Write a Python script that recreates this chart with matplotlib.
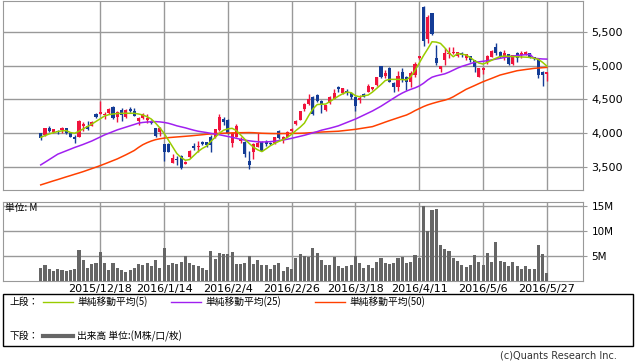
import matplotlib.pyplot as plt
from matplotlib.lines import Line2D
from matplotlib.patches import Rectangle
import numpy as np

plt.rcParams['font.family'] = ['DejaVu Sans', 'Noto Sans CJK JP']
JP = ['Noto Sans CJK JP', 'DejaVu Sans']

# daily candles, oldest first
opens = [4000, 3975, 4075, 4020, 4030, 4050, 4075, 4000, 3940, 3950,
         4100, 4110, 4110, 4280, 4285, 4270, 4295, 4390, 4240, 4345,
         4236, 4364, 4330, 4187, 4221, 4196, 4187, 4073, 4024, 3840,
         3840, 3565, 3620, 3665, 3545, 3645, 3817, 3790, 3876, 3866,
         3950, 3940, 4049, 4216, 4196, 3860, 3950, 3890, 3876, 3590,
         3723, 3802, 3876, 3876, 3860, 3851, 4034, 3901, 3950, 4039,
         4132, 4196, 4364, 4433, 4532, 4561, 4483, 4344, 4443, 4507,
         4680, 4591, 4630, 4591, 4532, 4492, 4581, 4615, 4650, 4714,
         4995, 4847, 4961, 4749, 4680, 4911, 4827, 4763, 4862, 5108,
         5873, 5390, 5774, 5108, 4946, 5084, 5172, 5182, 5143, 5192,
         5108, 5143, 5084, 4837, 4935, 5059, 5133, 5281, 5207, 5123,
         5172, 5025, 5192, 5158, 5172, 5182, 5123, 5108, 4911, 4877]
highs = [4010, 4080, 4105, 4070, 4050, 4095, 4085, 4010, 3975, 4200,
         4160, 4180, 4175, 4300, 4480, 4315, 4380, 4400, 4330, 4370,
         4355, 4384, 4380, 4246, 4300, 4280, 4200, 4085, 4098, 3845,
         3850, 3695, 3665, 3680, 3590, 3755, 3860, 3880, 3890, 3876,
         3975, 4070, 4285, 4236, 4210, 4020, 4137, 3950, 3885, 3743,
         3850, 3999, 3890, 3901, 3875, 3950, 4045, 3960, 4030, 4073,
         4200, 4335, 4453, 4581, 4545, 4575, 4495, 4425, 4545, 4650,
         4700, 4675, 4650, 4615, 4540, 4566, 4595, 4729, 4690, 4840,
         5000, 4936, 4975, 4755, 4926, 4961, 4847, 4921, 5059, 5150,
         5880, 5750, 5780, 5306, 5000, 5256, 5271, 5271, 5210, 5207,
         5180, 5150, 5090, 4970, 4980, 5160, 5230, 5340, 5215, 5232,
         5180, 5165, 5200, 5222, 5225, 5190, 5135, 5115, 4920, 4905]
lows = [3895, 3965, 4025, 4005, 3990, 4000, 3990, 3940, 3850, 3940,
        4040, 4050, 4100, 4220, 4280, 4215, 4285, 4210, 4160, 4175,
        4230, 4315, 4255, 4122, 4210, 4157, 4135, 3950, 3960, 3595,
        3720, 3555, 3535, 3470, 3540, 3640, 3753, 3715, 3830, 3802,
        3715, 3935, 4040, 4117, 3990, 3790, 3940, 3851, 3654, 3467,
        3625, 3795, 3735, 3810, 3830, 3845, 3910, 3851, 3945, 4005,
        4120, 4190, 4334, 4425, 4265, 4470, 4305, 4335, 4430, 4500,
        4615, 4585, 4566, 4500, 4334, 4443, 4530, 4605, 4640, 4705,
        4815, 4813, 4755, 4615, 4630, 4763, 4640, 4680, 4827, 5100,
        5290, 5340, 5460, 5010, 4911, 5010, 5108, 5172, 5135, 5133,
        5084, 5059, 4911, 4827, 4875, 5030, 5125, 5158, 5115, 5084,
        5015, 5015, 5059, 5108, 5165, 5108, 5080, 4813, 4700, 4778]
closes = [3930, 4075, 4040, 4060, 4020, 4085, 4000, 3950, 3910, 4180,
          4140, 4070, 4165, 4245, 4315, 4285, 4360, 4220, 4320, 4270,
          4344, 4334, 4260, 4221, 4280, 4221, 4147, 3960, 4073, 3728,
          3728, 3635, 3605, 3482, 3580, 3742, 3782, 3805, 3840, 3827,
          3827, 4058, 4236, 4167, 4000, 4009, 4108, 3910, 3694, 3536,
          3840, 3851, 3743, 3840, 3840, 3940, 3935, 3950, 4014, 4058,
          4187, 4324, 4433, 4512, 4285, 4482, 4418, 4418, 4532, 4591,
          4650, 4665, 4605, 4542, 4403, 4517, 4542, 4699, 4680, 4827,
          4827, 4896, 4763, 4680, 4847, 4788, 4763, 4896, 5025, 5143,
          5370, 5725, 5468, 5045, 4995, 5192, 5192, 5207, 5197, 5158,
          5172, 5084, 4975, 4961, 4970, 5143, 5222, 5192, 5123, 5182,
          5025, 5158, 5108, 5182, 5207, 5133, 5094, 4862, 4862, 4901]

# moving averages as drawn
ma5 = [3940, 3965, 3990, 4009, 4025, 4035, 4039, 4010, 4000, 4030,
       4065, 4100, 4135, 4175, 4215, 4255, 4275, 4285, 4292, 4295,
       4296, 4296, 4295, 4285, 4270, 4245, 4210, 4150, 4080, 3999,
       3900, 3800, 3700, 3640, 3600, 3610, 3670, 3730, 3775, 3810,
       3880, 3940, 4000, 4045, 4065, 4073, 4040, 3975, 3910, 3850,
       3795, 3755, 3728, 3770, 3815, 3850, 3880, 3905, 3940, 3985,
       4040, 4090, 4150, 4260, 4360, 4425, 4430, 4432, 4470, 4510,
       4550, 4585, 4610, 4600, 4555, 4540, 4555, 4566, 4610, 4665,
       4720, 4780, 4798, 4798, 4798, 4795, 4790, 4840, 4930, 5040,
       5150, 5250, 5355, 5350, 5330, 5265, 5190, 5133, 5180, 5170,
       5160, 5120, 5075, 5040, 5025, 5050, 5080, 5110, 5135, 5143,
       5140, 5136, 5133, 5130, 5127, 5123, 5110, 5094, 5050, 4995]
ma25 = [3531, 3570, 3610, 3650, 3690, 3715, 3740, 3765, 3790, 3812,
        3835, 3860, 3885, 3915, 3945, 3975, 4000, 4025, 4050, 4070,
        4090, 4110, 4130, 4150, 4160, 4166, 4170, 4172, 4168, 4160,
        4148, 4130, 4110, 4095, 4080, 4062, 4045, 4030, 4020, 4010,
        3998, 3988, 3978, 3965, 3952, 3940, 3925, 3910, 3898, 3888,
        3880, 3874, 3870, 3872, 3876, 3882, 3890, 3900, 3912, 3925,
        3940, 3955, 3970, 3988, 4006, 4024, 4045, 4060, 4075, 4092,
        4110, 4135, 4160, 4185, 4210, 4240, 4270, 4300, 4330, 4365,
        4400, 4440, 4480, 4520, 4560, 4595, 4625, 4650, 4672, 4700,
        4740, 4790, 4830, 4850, 4865, 4880, 4905, 4935, 4965, 4990,
        5010, 5030, 5050, 5058, 5066, 5074, 5086, 5098, 5110, 5122,
        5132, 5142, 5152, 5158, 5163, 5168, 5110, 5105, 5100, 5098]
ma50 = [3235, 3255, 3275, 3295, 3314, 3334, 3354, 3373, 3393, 3412,
        3432, 3454, 3476, 3498, 3521, 3545, 3570, 3595, 3620, 3650,
        3680, 3712, 3745, 3790, 3830, 3860, 3885, 3905, 3918, 3928,
        3935, 3940, 3945, 3950, 3955, 3960, 3966, 3972, 3978, 3985,
        3990, 3995, 3998, 4000, 4003, 4005, 4007, 4008, 4009, 4010,
        4008, 4004, 4000, 3998, 3996, 3995, 3995, 3996, 3997, 3998,
        3999, 4000, 4002, 4006, 4010, 4014, 4018, 4021, 4024, 4027,
        4030, 4037, 4044, 4051, 4058, 4068, 4078, 4088, 4098, 4120,
        4142, 4165, 4187, 4208, 4229, 4250, 4270, 4300, 4335, 4365,
        4395, 4420, 4440, 4458, 4475, 4490, 4510, 4540, 4577, 4613,
        4650, 4678, 4706, 4735, 4763, 4788, 4812, 4837, 4862, 4878,
        4894, 4910, 4926, 4935, 4944, 4952, 4961, 4966, 4971, 4975]

# volume, millions
volume = [2.6, 3.2, 2.4, 2.0, 2.4, 2.2, 2.0, 2.2, 2.4, 6.3,
          4.2, 2.6, 3.4, 3.7, 5.9, 3.7, 2.2, 3.6, 2.6, 2.2,
          1.8, 2.2, 2.6, 3.4, 3.2, 3.6, 3.0, 4.2, 2.6, 6.7,
          3.2, 3.6, 3.5, 3.9, 5.0, 3.6, 3.2, 3.0, 2.6, 2.2,
          6.1, 4.4, 5.6, 5.4, 5.4, 5.9, 3.4, 3.4, 3.6, 5.0,
          3.4, 4.2, 3.2, 3.2, 2.4, 3.2, 3.6, 2.0, 2.8, 2.4,
          4.6, 5.4, 5.0, 4.8, 6.7, 5.6, 4.2, 3.2, 3.2, 4.8,
          3.0, 2.6, 3.0, 3.2, 5.0, 3.6, 2.6, 3.2, 2.6, 3.8,
          4.6, 3.6, 3.5, 3.6, 4.6, 4.8, 3.6, 3.8, 5.2, 4.6,
          15.0, 10.1, 14.2, 14.4, 7.3, 6.5, 6.1, 4.6, 4.0, 3.2,
          2.8, 3.2, 5.2, 3.8, 3.2, 5.6, 3.8, 7.9, 4.0, 3.8,
          3.0, 3.8, 3.0, 2.4, 3.0, 2.4, 2.4, 7.3, 5.4, 1.6]

date_pos = [14, 29, 44, 59, 74, 89, 104, 119]
date_labels = ['2015/12/18', '2016/1/14', '2016/2/4', '2016/2/26',
               '2016/3/18', '2016/4/11', '2016/5/6', '2016/5/27']
price_ticks = [3500, 4000, 4500, 5000, 5500]
vol_ticks = [5, 10, 15]

RED = '#F0143C'
BLUE = '#143C96'
C5 = '#99CC00'
C25 = '#A020F0'
C50 = '#FF4000'
GRID = '#999999'

o = np.array(opens)
c = np.array(closes)
x = np.arange(len(c))
up = c >= o
col = np.where(up, RED, BLUE)

W, H = 638, 362
fig = plt.figure(figsize=(W / 100, H / 100), dpi=100)
ax = fig.add_axes([3.3 / W, 1 - 190.3 / H, 579.7 / W, 189.8 / H])
axv = fig.add_axes([3.3 / W, 1 - 281 / H, 579.7 / W, 79.3 / H], sharex=ax)

for a in (ax, axv):
    for s in a.spines.values():
        s.set_color(GRID)
    a.set_axisbelow(True)
    a.yaxis.tick_right()
    a.tick_params(axis='y', length=3, color=GRID, labelsize=8, pad=3)
    a.set_xticks(date_pos)
    a.grid(True, color=GRID, lw=1)

# price panel
ax.vlines(x, lows, highs, colors=col, lw=1, zorder=3)
ax.bar(x, np.maximum(np.abs(c - o), 12), bottom=np.minimum(o, c), width=0.72,
       color=col, lw=0, zorder=4)
ax.plot(x, ma50, color=C50, lw=1.1, zorder=5)
ax.plot(x, ma25, color=C25, lw=1.1, zorder=5)
ax.plot(x, ma5, color=C5, lw=1.1, zorder=5)
ax.set_xlim(-8.8, 127.5)
ax.set_ylim(3155, 5966)
ax.set_yticks(price_ticks)
ax.set_yticklabels([f'{v:,}' for v in price_ticks])
ax.tick_params(axis='x', length=0, labelbottom=False)

# volume panel
axv.bar(x, volume, width=0.72, color='#666666', lw=0, zorder=3)
axv.set_ylim(0, 15.86)
axv.set_yticks(vol_ticks)
axv.set_yticklabels([f'{v}M' for v in vol_ticks])
axv.tick_params(axis='y', labelsize=7.5)
axv.set_xticklabels(date_labels)
axv.tick_params(axis='x', length=0, labelsize=8, pad=2)
fig.text(5 / W, 1 - 208 / H, '単位: M', fontsize=7, va='center', family=JP)

# legend box
fig.add_artist(Rectangle((3 / W, 1 - 346 / H), 630 / W, 52 / H,
                         transform=fig.transFigure, fill=False,
                         edgecolor='black', lw=1))
y1 = 1 - 302 / H
y2 = 1 - 336 / H
fig.text(10 / W, y1, '上段：', fontsize=7, va='center', family=JP)
for x0, x1, clr, lab in [(43, 73, C5, '単純移動平均(5)'),
                         (171, 201, C25, '単純移動平均(25)'),
                         (315, 345, C50, '単純移動平均(50)')]:
    fig.add_artist(Line2D([x0 / W, x1 / W], [y1, y1], color=clr, lw=1,
                          transform=fig.transFigure))
    fig.text((x1 + 4) / W, y1, lab, fontsize=7, va='center', family=JP)
fig.text(10 / W, y2, '下段：', fontsize=7, va='center', family=JP)
fig.add_artist(Line2D([43 / W, 73 / W], [y2, y2], color='#666666', lw=3,
                      transform=fig.transFigure))
fig.text(77 / W, y2, '出来高 単位:(M株/口/枚)', fontsize=7, va='center', family=JP)

fig.text(617 / W, 1 - 356 / H, '(c)Quants Research Inc.', fontsize=7,
         ha='right', va='center', color='#333333')

fig.savefig('out.png', dpi=100)
